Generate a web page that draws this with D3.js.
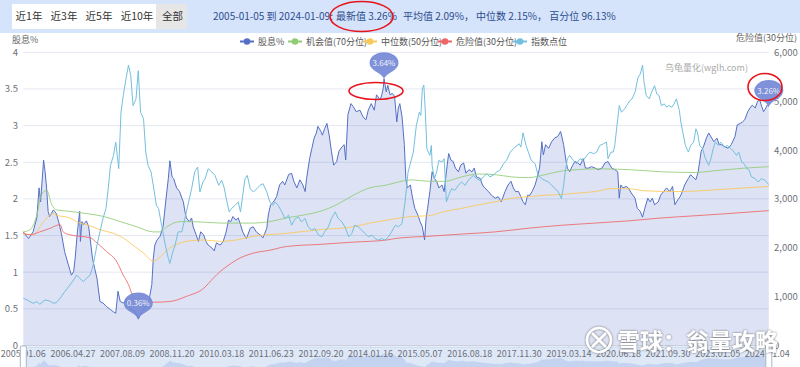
<!DOCTYPE html>
<html><head><meta charset="utf-8">
<script src="https://cdn.jsdelivr.net/npm/d3@7"></script>
<style>
body{margin:0;background:#fff;}
svg{display:block;font-family:"Noto Sans CJK SC","Noto Sans",sans-serif;}
</style>
</head><body>
<svg id="c" width="800" height="367"></svg>
<script>
// ---------------- data ----------------
const rangeButtons = ["近1年","近3年","近5年","近10年","全部"];
const statPeriod = "2005-01-05 到 2024-01-09: ";
const statLatest = "最新值 3.26%";
const statRest = "平均值 2.09%， 中位数 2.15%， 百分位 96.13%";
const legendNames = ["股息%","机会值(70分位)","中位数(50分位)","危险值(30分位)","指数点位"];
const seriesColors = ["#5470c6","#91cc75","#fac858","#ee6666","#73c0de"];
const leftAxisName = "股息%";
const rightAxisName = "危险值(30分位)";
const sourceMark = "乌龟量化(wglh.com)";
const snowballMark = "雪球：翁量攻略";

// category axis: trading-week index, labels every 66 weeks
const lastWeek = 992;
const tickWeeks = [0,66,132,198,264,330,396,462,528,594,660,726,792,858,924,990];
const tickLabels = ["2005.01.06","2006.04.27","2007.08.09","2008.11.20","2010.03.18","2011.06.23",
  "2012.09.20","2014.01.16","2015.05.07","2016.08.18","2017.11.30","2019.03.14","2020.06.18",
  "2021.09.30","2023.01.05","2024.01.04"];
const leftTicks = [0,0.5,1,1.5,2,2.5,3,3.5,4];
const rightTicks = [0,1000,2000,3000,4000,5000,6000];

// [week, dividend yield %]
const yieldPts = [[0,1.55],[7,1.46],[13,1.55],[18,1.74],[21,2.15],[23,1.96],[27,2.53],[29,2.37],[31,2.15],[33,1.83],[35,1.76],[40,1.85],[44,1.80],[48,1.65],[51,1.51],[55,1.28],[60,1.10],[64,0.96],[67,1.01],[69,1.19],[72,1.55],[75,1.83],[76,1.42],[78,1.69],[80,1.65],[84,1.70],[87,1.62],[90,1.37],[92,1.19],[95,1.05],[98,0.92],[102,0.60],[106,0.58],[111,0.53],[116,0.49],[120,0.46],[123,0.44],[126,0.74],[129,0.60],[133,0.58],[137,0.62],[142,0.51],[149,0.46],[153,0.36],[160,0.51],[166,0.55],[171,0.83],[173,1.19],[175,1.37],[178,1.44],[182,1.49],[186,1.62],[190,2.01],[193,2.28],[195,2.52],[198,2.30],[200,2.28],[204,2.15],[208,2.10],[211,2.01],[213,1.96],[215,1.83],[217,1.74],[221,1.69],[224,1.74],[226,1.62],[230,1.51],[233,1.42],[236,1.55],[240,1.51],[243,1.42],[246,1.37],[251,1.33],[254,1.29],[257,1.40],[262,1.37],[266,1.42],[270,1.55],[273,1.71],[276,1.69],[279,1.76],[283,1.71],[286,1.74],[289,1.65],[292,1.55],[295,1.49],[297,1.46],[302,1.60],[306,1.62],[310,1.55],[315,1.51],[319,1.47],[324,1.60],[326,1.78],[329,1.92],[333,1.96],[337,2.03],[341,2.19],[345,2.24],[348,2.19],[353,2.33],[357,2.35],[360,2.24],[364,2.15],[368,2.26],[372,2.19],[375,2.10],[377,2.28],[381,2.55],[384,2.69],[387,2.83],[390,2.90],[392,2.99],[396,2.92],[398,2.87],[401,2.96],[404,3.03],[407,2.87],[410,2.65],[413,2.46],[417,2.51],[420,2.65],[424,2.71],[427,2.74],[429,2.53],[432,3.15],[436,3.30],[439,3.26],[443,3.19],[448,3.21],[452,3.12],[456,3.08],[459,3.21],[463,3.30],[467,3.21],[470,3.42],[475,3.35],[477,3.42],[479,3.51],[480,3.64],[483,3.46],[485,3.55],[488,3.42],[491,3.44],[494,3.40],[497,3.05],[499,3.24],[501,3.30],[504,3.12],[507,2.74],[509,2.28],[511,2.15],[515,2.19],[518,2.01],[521,1.87],[525,1.78],[528,1.69],[531,1.62],[534,1.44],[536,1.74],[538,1.87],[541,2.10],[544,2.37],[547,2.28],[550,2.24],[553,2.15],[557,2.19],[560,2.10],[563,2.37],[566,2.62],[569,2.53],[572,2.51],[575,2.42],[579,2.37],[582,2.46],[586,2.49],[589,2.35],[593,2.40],[597,2.37],[600,2.42],[603,2.30],[608,2.28],[611,2.19],[614,2.15],[619,2.10],[623,2.05],[628,2.01],[632,2.03],[636,1.96],[641,2.10],[645,2.19],[649,2.24],[652,2.15],[655,2.10],[659,2.10],[662,2.03],[665,1.96],[668,1.92],[671,2.05],[674,2.05],[677,2.10],[681,2.19],[684,2.30],[687,2.42],[690,2.78],[692,2.60],[695,2.74],[699,2.69],[703,2.78],[707,2.83],[711,2.85],[715,2.92],[719,2.74],[722,2.53],[724,2.42],[727,2.37],[731,2.46],[734,2.51],[738,2.49],[741,2.46],[745,2.55],[748,2.42],[752,2.42],[756,2.44],[761,2.42],[765,2.40],[770,2.42],[774,2.49],[778,2.51],[783,2.42],[787,2.40],[791,2.37],[793,2.01],[795,2.19],[798,2.15],[802,2.17],[805,2.15],[809,2.08],[814,2.01],[817,1.87],[821,1.83],[824,1.75],[827,1.87],[831,2.01],[834,1.96],[837,2.01],[840,1.92],[845,1.96],[848,2.05],[852,2.10],[856,2.15],[860,2.10],[864,2.17],[867,1.92],[871,1.99],[874,2.03],[877,2.10],[880,2.19],[885,2.28],[888,2.33],[891,2.30],[895,2.26],[898,2.37],[902,2.65],[905,2.71],[909,2.83],[912,2.90],[916,2.83],[919,2.78],[923,2.83],[926,2.74],[929,2.74],[934,2.71],[938,2.69],[942,2.74],[947,2.85],[950,3.01],[954,3.03],[957,3.05],[960,3.08],[964,3.19],[967,3.24],[970,3.28],[974,3.24],[977,3.33],[980,3.35],[982,3.28],[985,3.19],[988,3.24],[990,3.28],[992,3.26]];

// [week, index points]
const indexPts = [[0,966],[5,932],[9,898],[13,864],[18,898],[22,843],[29,932],[35,911],[40,864],[44,877],[49,966],[55,1100],[62,1238],[67,1340],[71,1442],[75,1374],[80,1306],[84,1374],[89,1442],[93,1646],[98,2054],[102,2326],[106,2598],[110,2802],[113,3210],[116,3686],[120,3890],[123,4162],[127,3618],[130,4774],[133,5114],[137,5488],[140,5739],[143,5522],[146,4910],[150,5046],[153,5624],[156,4774],[160,4638],[163,3958],[166,3686],[170,3550],[173,3278],[177,2870],[180,2802],[184,2462],[189,2054],[193,1782],[195,1680],[199,1918],[202,2054],[206,2326],[211,2326],[215,2598],[220,2938],[224,3210],[228,3550],[232,3652],[235,3142],[239,3346],[242,3414],[246,3618],[251,3550],[255,3482],[260,3278],[264,3380],[267,3244],[271,2938],[274,2734],[277,2802],[282,2870],[286,2938],[289,2734],[292,3074],[295,3414],[298,3482],[302,3210],[306,3142],[311,3210],[315,3278],[319,3312],[324,3142],[328,2938],[332,2870],[335,2938],[339,2870],[344,2734],[348,2598],[353,2666],[357,2462],[362,2598],[366,2632],[370,2530],[375,2598],[379,2428],[384,2360],[388,2394],[393,2258],[397,2224],[401,2326],[406,2428],[410,2598],[415,2734],[419,2598],[424,2530],[428,2428],[433,2224],[437,2292],[441,2462],[446,2428],[450,2360],[455,2292],[459,2224],[464,2258],[468,2190],[472,2156],[477,2190],[481,2156],[486,2224],[490,2326],[495,2462],[499,2428],[504,2496],[508,2938],[512,3550],[519,3958],[523,4502],[527,4774],[529,4706],[531,5250],[533,5331],[535,4774],[537,4026],[539,3958],[541,3890],[543,4094],[544,3686],[547,3414],[550,3550],[553,3788],[557,3754],[560,3822],[563,2938],[566,3074],[570,3210],[574,3176],[579,3278],[583,3346],[588,3278],[592,3380],[599,3482],[603,3414],[608,3380],[612,3448],[617,3516],[621,3448],[625,3482],[630,3550],[634,3584],[639,3720],[643,3788],[648,3958],[652,4026],[657,4094],[660,4128],[662,4060],[665,4352],[669,4094],[672,3958],[676,3788],[681,3720],[685,3482],[690,3414],[694,3380],[699,3346],[703,3278],[708,3210],[712,3142],[716,3006],[719,3278],[721,3550],[724,3822],[727,3890],[732,3788],[736,3720],[741,3822],[745,3788],[750,3890],[754,3958],[759,3924],[763,3958],[767,4094],[772,4128],[776,4162],[778,3822],[782,3958],[785,3958],[787,4094],[791,4638],[793,4910],[796,4774],[800,4842],[803,4910],[807,5012],[810,5046],[814,5182],[818,5488],[821,5556],[824,5739],[826,5386],[829,5114],[833,5046],[836,5182],[840,5318],[843,5148],[846,5114],[849,4910],[853,4944],[856,4876],[859,4910],[863,4876],[866,4944],[869,5046],[873,4808],[875,4570],[878,4332],[881,4094],[885,3958],[888,4094],[892,4162],[895,4434],[897,4366],[900,4094],[904,4026],[907,3856],[912,3686],[915,3822],[918,4026],[921,4162],[925,4094],[928,4162],[933,4060],[937,4094],[942,4026],[946,3958],[949,3890],[952,3958],[956,3754],[959,3720],[963,3618],[966,3584],[969,3448],[974,3414],[978,3346],[982,3414],[987,3380],[992,3291]];

// [week, yield %] rolling percentile lines
const oppPts = [[0,1.55],[9,1.58],[18,1.78],[24,2.05],[31,2.12],[38,1.92],[44,1.85],[62,1.83],[84,1.80],[107,1.76],[129,1.69],[151,1.62],[173,1.55],[182,1.55],[191,1.62],[209,1.69],[226,1.69],[262,1.67],[306,1.67],[328,1.69],[350,1.74],[373,1.78],[395,1.83],[417,1.92],[439,2.05],[461,2.15],[484,2.19],[495,2.22],[517,2.26],[539,2.24],[561,2.24],[583,2.30],[606,2.34],[628,2.33],[650,2.30],[672,2.29],[694,2.33],[716,2.38],[739,2.40],[761,2.41],[805,2.40],[849,2.37],[894,2.36],[916,2.38],[960,2.42],[992,2.44]];
const medPts = [[0,1.53],[13,1.51],[27,1.69],[40,1.80],[44,1.78],[62,1.74],[75,1.67],[84,1.65],[102,1.58],[120,1.53],[129,1.49],[146,1.37],[160,1.26],[173,1.15],[182,1.21],[195,1.33],[217,1.42],[240,1.44],[262,1.42],[284,1.44],[306,1.49],[350,1.53],[395,1.58],[439,1.62],[461,1.67],[484,1.71],[495,1.73],[517,1.76],[539,1.77],[561,1.83],[583,1.87],[606,1.92],[628,1.96],[650,2.01],[672,2.03],[694,2.05],[716,2.06],[739,2.08],[761,2.10],[783,2.14],[805,2.14],[827,2.11],[872,2.10],[916,2.12],[960,2.15],[992,2.17]];
const dangerPts = [[0,1.53],[9,1.51],[22,1.55],[36,1.60],[49,1.65],[53,1.55],[62,1.51],[75,1.49],[89,1.47],[98,1.40],[111,1.28],[124,1.15],[133,0.96],[140,0.83],[146,0.67],[155,0.60],[173,0.59],[195,0.60],[217,0.67],[240,0.78],[253,0.92],[262,1.01],[271,1.08],[284,1.17],[306,1.26],[328,1.30],[350,1.35],[395,1.38],[439,1.41],[484,1.44],[495,1.46],[539,1.49],[583,1.52],[628,1.55],[672,1.60],[716,1.64],[761,1.67],[805,1.70],[849,1.74],[894,1.77],[938,1.80],[992,1.84]];

// ---------------- drawing ----------------
const W = 800, H = 367;
const plot = {left: 23.3, right: 768.8, top: 52.3, bottom: 345.5};
const svg = d3.select("#c");

const x = d3.scaleLinear().domain([0, lastWeek]).range([plot.left, plot.right]);
const yL = d3.scaleLinear().domain([0, 4]).range([plot.bottom, plot.top]);
const yR = d3.scaleLinear().domain([0, 6000]).range([plot.bottom, plot.top]);

const defs = svg.append("defs");
const f = defs.append("filter").attr("id","shadow").attr("x","-20%").attr("y","-20%").attr("width","140%").attr("height","140%");
f.append("feDropShadow").attr("dx",0).attr("dy",0).attr("stdDeviation",1.2).attr("flood-color","#555").attr("flood-opacity",0.9);

// top bar
svg.append("rect").attr("x",0).attr("y",0).attr("width",W).attr("height",33).attr("fill","#d5e3fb");
svg.append("rect").attr("x",12).attr("y",4).attr("width",144).attr("height",25).attr("fill","#ffffff");
svg.append("rect").attr("x",156).attr("y",4).attr("width",31).attr("height",25).attr("fill","#e6e6e6");
const btnCenters = [29, 64, 99, 137, 172.5];
rangeButtons.forEach((t,i) => {
  svg.append("text").attr("x",btnCenters[i]).attr("y",20).attr("text-anchor","middle")
    .attr("font-size",10.5).attr("fill","#333").text(t);
});
svg.append("text").attr("x",213).attr("y",20).attr("font-size",10).attr("fill","#2d4d8e").text(statPeriod);
svg.append("text").attr("x",336).attr("y",20).attr("font-size",10).attr("fill","#2d4d8e").text(statLatest);
svg.append("text").attr("x",403).attr("y",20).attr("font-size",10).attr("fill","#2d4d8e").text(statRest);
svg.append("ellipse").attr("cx",361.5).attr("cy",16.5).attr("rx",31.5).attr("ry",15)
  .attr("fill","none").attr("stroke","#e8141b").attr("stroke-width",1.6);

// legend
const legendX = [240, 288, 363, 438, 513];
legendNames.forEach((n,i) => {
  const lx = legendX[i], ly = 41.5;
  svg.append("line").attr("x1",lx).attr("x2",lx+14).attr("y1",ly).attr("y2",ly)
    .attr("stroke",seriesColors[i]).attr("stroke-width",2);
  svg.append("circle").attr("cx",lx+7).attr("cy",ly).attr("r",3.3).attr("fill",seriesColors[i]);
  svg.append("text").attr("x",lx+18).attr("y",ly+3.3).attr("font-size",9).attr("fill","#555").text(n);
});

// axis names
svg.append("text").attr("x",12).attr("y",43).attr("font-size",9).attr("fill","#666").text(leftAxisName);
svg.append("text").attr("x",797).attr("y",41).attr("text-anchor","end").attr("font-size",9).attr("fill","#666").text(rightAxisName);

// gridlines
svg.append("g").selectAll("line").data(leftTicks.slice(1)).join("line")
  .attr("x1",plot.left).attr("x2",plot.right).attr("y1",d=>yL(d)).attr("y2",d=>yL(d))
  .attr("stroke","#e4e8f2").attr("stroke-width",1);

// left axis labels
svg.append("g").selectAll("text").data(leftTicks).join("text")
  .attr("x",18).attr("y",d=>yL(d)+3.5).attr("text-anchor","end")
  .attr("font-size",9.5).attr("fill","#6e7079").text(d=>d);
// right axis labels
svg.append("g").selectAll("text").data(rightTicks).join("text")
  .attr("x",774).attr("y",d=>yR(d)+3.5).attr("text-anchor","start")
  .attr("font-size",9.5).attr("fill","#6e7079").text(d=>d3.format(",")(d));

// watermark source
svg.append("text").attr("x",665).attr("y",71).attr("font-size",9).attr("fill","#aaa").text(sourceMark);

// area + lines
const lineL = d3.line().x(d=>x(d[0])).y(d=>yL(d[1]));
const area = d3.area().x(d=>x(d[0])).y0(yL(0)).y1(d=>yL(d[1]));
svg.append("path").datum(yieldPts).attr("d",area).attr("fill","#5470c6").attr("fill-opacity",0.2);
svg.append("path").datum(yieldPts).attr("d",lineL).attr("fill","none").attr("stroke","#5470c6").attr("stroke-width",1);
const smooth = d3.line().x(d=>x(d[0])).y(d=>yL(d[1])).curve(d3.curveMonotoneX);
[[oppPts,1],[medPts,2],[dangerPts,3]].forEach(([pts,ci]) => {
  svg.append("path").datum(pts).attr("d",smooth).attr("fill","none")
    .attr("stroke",seriesColors[ci]).attr("stroke-width",1).attr("stroke-opacity",0.85);
});
const lineR = d3.line().x(d=>x(d[0])).y(d=>yR(d[1]));
svg.append("path").datum(indexPts).attr("d",lineR).attr("fill","none").attr("stroke",seriesColors[4]).attr("stroke-width",1);

// x axis
svg.append("line").attr("x1",plot.left).attr("x2",plot.right).attr("y1",plot.bottom).attr("y2",plot.bottom)
  .attr("stroke","#c9cfdc").attr("stroke-width",1);
svg.append("g").selectAll("line").data(tickWeeks).join("line")
  .attr("x1",d=>x(d)).attr("x2",d=>x(d)).attr("y1",plot.bottom).attr("y2",plot.bottom+4)
  .attr("stroke","#c9cfdc");

// data zoom slider
const sl = {top: 347, bottom: 377};
svg.append("rect").attr("x",plot.left).attr("y",sl.top).attr("width",plot.right-plot.left).attr("height",sl.bottom-sl.top)
  .attr("fill","#eef2fb").attr("stroke","#d2dbee");
const ySl = d3.scaleLinear().domain([0, 4]).range([sl.bottom, sl.top+4]);
svg.append("path").datum(yieldPts).attr("d", d3.area().x(d=>x(d[0])).y0(sl.bottom).y1(d=>ySl(d[1])))
  .attr("fill","#c5d3f0").attr("fill-opacity",0.8);
svg.append("rect").attr("x",plot.left).attr("y",sl.top).attr("width",plot.right-plot.left).attr("height",sl.bottom-sl.top)
  .attr("fill","#87afe6").attr("fill-opacity",0.15);

// x labels
svg.append("g").selectAll("text").data(tickWeeks).join("text")
  .attr("x",d=>x(d)).attr("y",357).attr("text-anchor","middle")
  .attr("font-size",9).attr("fill","#6e7079").text((d,i)=>tickLabels[i]);

// slider handles
[plot.left, plot.right].forEach(hx => {
  svg.append("rect").attr("x",hx-3).attr("y",346).attr("width",6).attr("height",24)
    .attr("fill","#fff").attr("stroke","#a7b7cc").attr("stroke-width",1).attr("rx",1);
});

// mark pins
function pinPath(cx, tipY){
  const cy = tipY - 16, rx = 14.5, ry = 10.5;
  const c = Math.cos(0.9), s = Math.sin(0.9);
  const lx = cx - rx*c, rxp = cx + rx*c, py = cy + ry*s;
  return `M${lx},${py} A${rx},${ry} 0 1 1 ${rxp},${py} Q${cx+2},${tipY-4} ${cx},${tipY} Q${cx-2},${tipY-4} ${lx},${py} Z`;
}
const maxPt = yieldPts.reduce((a,b)=> b[1]>a[1]?b:a);
const minPt = yieldPts.reduce((a,b)=> b[1]<a[1]?b:a);
const lastPt = yieldPts[yieldPts.length-1];
[maxPt, minPt, lastPt].forEach(p => {
  const px = x(p[0]), py = yL(p[1]);
  svg.append("path").attr("d",pinPath(px,py)).attr("fill","#7489d6").attr("fill-opacity",0.92);
  svg.append("text").attr("x",px).attr("y",py-13).attr("text-anchor","middle")
    .attr("font-size",8).attr("fill","#fff").attr("fill-opacity",0.9).text(p[1].toFixed(2)+"%");
});

// hand-drawn red ellipses
svg.append("ellipse").attr("cx",376).attr("cy",91).attr("rx",27).attr("ry",8.5)
  .attr("fill","none").attr("stroke","#e8141b").attr("stroke-width",1.6);
svg.append("ellipse").attr("cx",765).attr("cy",87).attr("rx",17).attr("ry",13.5)
  .attr("fill","none").attr("stroke","#e8141b").attr("stroke-width",1.6);

// snowball watermark
const wm = svg.append("g").attr("filter","url(#shadow)");
wm.append("circle").attr("cx",599).attr("cy",340).attr("r",12).attr("fill","none").attr("stroke","#fff").attr("stroke-width",2.5);
wm.append("path").attr("d","M592,333 L606,347 M606,333 L592,347").attr("stroke","#fff").attr("stroke-width",2.5).attr("fill","none");
wm.append("text").attr("x",617).attr("y",350).attr("font-size",23).attr("font-weight","bold")
  .attr("fill","#fff").text(snowballMark);
</script>
</body></html>
